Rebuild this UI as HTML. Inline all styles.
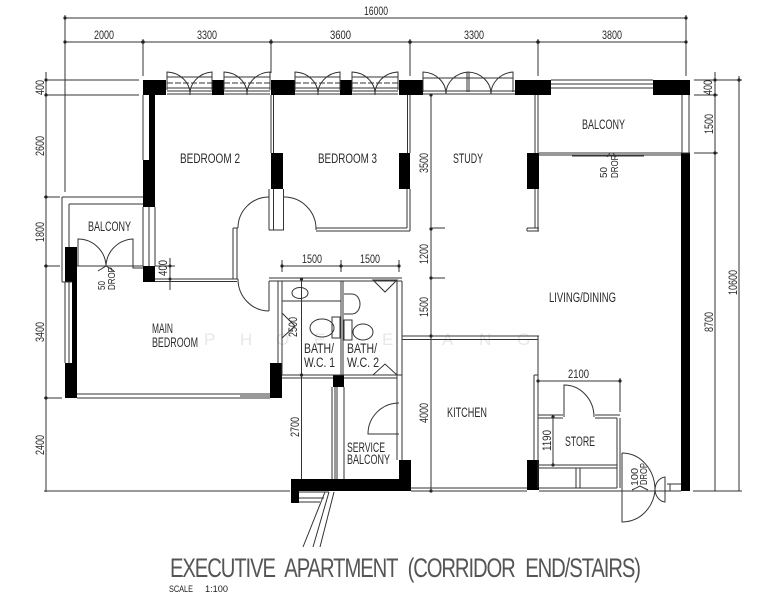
<!DOCTYPE html>
<html><head><meta charset="utf-8"><style>
html,body{margin:0;padding:0;background:#fff}
svg{display:block}
text{font-family:"Liberation Sans",sans-serif;fill:#2a2a2a}
.d text{font-size:12px}
.d .s{font-size:10px}
.r text{font-size:13.5px}
.l{fill:none;stroke:#333;stroke-width:1}
.b{fill:#000}
.wm text{font-size:17px;fill:#e8e8e8}
</style></head><body>
<svg width="758" height="600" viewBox="0 0 758 600" xmlns="http://www.w3.org/2000/svg">
<!-- watermark -->
<g class="wm">
<text x="204" y="345">P</text><text x="240" y="345">H</text><text x="276" y="345">O</text><text x="314" y="345">E</text><text x="382" y="345">E</text><text x="442" y="345">A</text><text x="479" y="345">N</text><text x="517" y="345">G</text>
</g>
<!-- dimension lines -->
<path class="l" d="M65 18H686M65 42H686M65 15V192M143 39V76M271 39V73M410 39V76M538 39V76M686 15V76M46 72V492M45 80H139M45 95H139M44 197H60M44 266H60M44 398H62M44 491H290M715 72V491M739 76V491M694 95H718M694 153H718M694 80H742M693 491H742M431 95V491M431 278H445M431 228H445M301.5 278V491M282 266H399M282 260V272M341 260V272M399 260V272M170 258V290M155 266H175M538 381H620M620 378V412M553 417V465"/>
<g fill="#222">
<circle cx="65" cy="18" r="1.6"/><circle cx="686" cy="18" r="1.6"/><circle cx="65" cy="42" r="1.6"/><circle cx="143" cy="42" r="1.8"/><circle cx="271" cy="42" r="1.8"/><circle cx="410" cy="42" r="1.8"/><circle cx="538" cy="42" r="1.8"/><circle cx="686" cy="42" r="1.6"/>
<circle cx="46" cy="80" r="1.6"/><circle cx="46" cy="95" r="1.6"/><circle cx="46" cy="197" r="1.6"/><circle cx="46" cy="266" r="1.6"/><circle cx="46" cy="398" r="1.6"/>
<circle cx="715" cy="80" r="1.6"/><circle cx="715" cy="95" r="1.6"/><circle cx="715" cy="153" r="1.6"/><circle cx="739" cy="80" r="1.6"/>
<circle cx="431" cy="95" r="1.6"/><circle cx="431" cy="229" r="1.6"/><circle cx="431" cy="278" r="1.6"/><circle cx="431" cy="336" r="1.6"/><circle cx="431" cy="491" r="1.6"/>
<circle cx="282" cy="266" r="1.6"/><circle cx="341" cy="266" r="1.6"/><circle cx="399" cy="266" r="1.6"/><circle cx="301.5" cy="279" r="1.6"/><circle cx="301.5" cy="375" r="1.6"/>
<circle cx="538" cy="381" r="1.6"/><circle cx="620" cy="381" r="1.6"/><circle cx="553" cy="417" r="1.6"/><circle cx="553" cy="465" r="1.6"/><circle cx="170" cy="266" r="1.5"/><circle cx="170" cy="279" r="1.5"/>
</g>
<!-- black walls -->
<g class="b">
<rect x="143" y="80" width="23" height="15"/><rect x="212" y="80" width="12" height="15"/><rect x="271" y="80" width="24" height="15"/><rect x="340" y="80" width="12" height="15"/><rect x="399" y="80" width="24" height="15"/><rect x="515" y="80" width="36" height="15"/><rect x="653" y="80" width="37" height="15"/>
<rect x="149" y="95" width="6" height="65"/><rect x="143" y="160" width="12" height="47"/><rect x="143" y="266" width="12" height="16"/>
<rect x="271" y="153" width="12" height="36"/><rect x="399" y="153" width="11" height="36"/><rect x="527" y="153" width="12" height="36"/>
<rect x="681" y="153" width="9" height="338"/>
<rect x="65" y="247" width="12" height="35"/><rect x="72" y="282" width="5" height="81"/><rect x="65" y="363" width="12" height="35"/>
<rect x="270" y="363" width="12" height="35"/><rect x="333" y="375" width="11" height="12"/>
<rect x="291" y="479" width="120" height="12"/><rect x="291" y="491" width="8" height="12"/><rect x="399" y="460" width="12" height="20"/>
<rect x="527" y="460" width="12" height="30"/>
</g>
<!-- walls -->
<path class="l" d="M143 95V160M271 95V153M273.500 95V153M407.500 95V153M410 95V153M535 95V153M538 95V153M682 95V153M689 95V153
M143 207V266M149 207V266M155 207V266M155 279H233M155 281.500H237M233 228V279M237 228V279M233 228H238M233 279H238
M269 189V230M273.500 189V230M283.500 189V230M269 230H284
M316 228H407M316 231H410M407 189V228M410 189V231
M62 197H143M69 204H143M62 197V282M69 204V247M62 282H72M65 282V363M69 282V363
M77 394H270M77 398H270
M269 278H402M269 281H402M269 281V311M278 281V363M282 281V375M341 281V375M343 281V375M282 375H402M282 378H333M344 378H397M397 281V460M402 281V460
M282 301H341
M402 336H539M402 339.500H538M538 336V375M534 375V460M538 375V460M534 375H538
M527 228V231M527 228H539M527 231H539M535 189V228M538 189V231
M332 387V479M335 387V479M337 387V479M344 387V479
M299 492H329M299 498H324M299 502H320
M411 488H527M411 491H527M539 488H617M539 491H622
M538 415H563M538 418H563M595 415H620M595 418H617M617 418V488M620 418V488M538 465H617M538 468H617M538 418V488M576 468V488M580 468V488
M539 153H690M539 155H681M572 156H644M670 484H681M670 484V491M693 491H710M640 491H681M622 491H660
M551 80H653M551 84H653M551 88H653"/>
<path class="l" d="M325 492L303 547M329 492L313 547M334 492L320 547"/>
<!-- windows -->
<g class="l">
<path d="M167 90V72A24 22 0 0 1 190 95A24 22 0 0 1 212 72V90M224 90V72A24 22 0 0 1 247 95A24 22 0 0 1 270 72V90M295 90V72A24 22 0 0 1 318 95A24 22 0 0 1 340 72V90M352 90V72A24 22 0 0 1 375 95A24 22 0 0 1 398 72V90"/>
<path d="M167 77H212M224 77H270M295 77H340M352 77H398M167 88H212M224 88H270M295 88H340M352 88H398M167 91H212M224 91H270M295 91H340M352 91H398M167 94H212M224 94H270M295 94H340M352 94H398"/>
<path stroke-dasharray="6 2" d="M167 83H212M224 83H270M295 83H340M352 83H398"/>
<path d="M423 92V72A24 22 0 0 1 446 94A24 22 0 0 1 468 72A24 22 0 0 1 491 94A24 22 0 0 1 513 72V92M467 72V92M469 72V92M423 78H513M423 91H515M423 94H515"/>
</g>
<!-- doors -->
<g class="l">
<path d="M269 197A31 31 0 0 0 238 228M238 279A31 32 0 0 0 269 311M284 197A32 32 0 0 1 316 230"/>
<path d="M78 266V239A28 28 0 0 1 106 266A28 28 0 0 1 133 239V268H143M77 266H143"/>
<path d="M399 403A31 31 0 0 0 368 434H399"/>
<path d="M564 417V385A30 32 0 0 1 594 417"/>
<path d="M622 453V522A33 35 0 0 0 655 490A33 37 0 0 0 622 453M665 477A11 13 0 0 0 655 490A11 13 0 0 0 665 502ZM667 484H681"/>
</g>
<!-- fixtures -->
<g class="l">
<ellipse cx="300" cy="293" rx="8" ry="5.500"/>
<ellipse cx="322" cy="328" rx="12" ry="9"/><rect x="332" y="317" width="8" height="21"/>
<ellipse cx="363" cy="332" rx="10" ry="8"/><rect x="344" y="320" width="8" height="20"/>
<path d="M344 294H352A8 10 0 0 1 360 304A8 10 0 0 1 352 314H344"/>
<path d="M373 280H397L385 292ZM373 375H397L385 364ZM282 313L295 326L282 338"/>
<path d="M240 396H270M607 157L610 153M613 153L616 157M98 271L106 266L114 271M632 490L640 486L648 490"/>
</g>
<!-- dimensions -->
<g class="d">
<text x="364" y="15" textLength="24" lengthAdjust="spacingAndGlyphs">16000</text>
<text x="94" y="39" textLength="20" lengthAdjust="spacingAndGlyphs">2000</text>
<text x="197" y="39" textLength="20" lengthAdjust="spacingAndGlyphs">3300</text>
<text x="330" y="39" textLength="21" lengthAdjust="spacingAndGlyphs">3600</text>
<text x="464" y="39" textLength="20" lengthAdjust="spacingAndGlyphs">3300</text>
<text x="602" y="39" textLength="20" lengthAdjust="spacingAndGlyphs">3800</text>
<text x="302" y="263" textLength="20" lengthAdjust="spacingAndGlyphs">1500</text>
<text x="360" y="263" textLength="20" lengthAdjust="spacingAndGlyphs">1500</text>
<text x="568" y="378" textLength="21" lengthAdjust="spacingAndGlyphs">2100</text>
<!-- rotated: translate to left edge of run, baseline -->
<text transform="translate(44 95) rotate(-90)" textLength="15" lengthAdjust="spacingAndGlyphs">400</text>
<text transform="translate(44 156) rotate(-90)" textLength="20" lengthAdjust="spacingAndGlyphs">2600</text>
<text transform="translate(44 242) rotate(-90)" textLength="20" lengthAdjust="spacingAndGlyphs">1800</text>
<text transform="translate(44 342) rotate(-90)" textLength="20" lengthAdjust="spacingAndGlyphs">3400</text>
<text transform="translate(44 455) rotate(-90)" textLength="20" lengthAdjust="spacingAndGlyphs">2400</text>
<text transform="translate(712 95) rotate(-90)" textLength="15" lengthAdjust="spacingAndGlyphs">400</text>
<text transform="translate(713 134) rotate(-90)" textLength="20" lengthAdjust="spacingAndGlyphs">1500</text>
<text transform="translate(713 332) rotate(-90)" textLength="20" lengthAdjust="spacingAndGlyphs">8700</text>
<text transform="translate(737 295) rotate(-90)" textLength="25" lengthAdjust="spacingAndGlyphs">10600</text>
<text transform="translate(428 173) rotate(-90)" textLength="20" lengthAdjust="spacingAndGlyphs">3500</text>
<text transform="translate(428 264) rotate(-90)" textLength="20" lengthAdjust="spacingAndGlyphs">1200</text>
<text transform="translate(428 317) rotate(-90)" textLength="20" lengthAdjust="spacingAndGlyphs">1500</text>
<text transform="translate(428 423) rotate(-90)" textLength="20" lengthAdjust="spacingAndGlyphs">4000</text>
<text transform="translate(297 337) rotate(-90)" textLength="20" lengthAdjust="spacingAndGlyphs">2500</text>
<text transform="translate(299 437) rotate(-90)" textLength="20" lengthAdjust="spacingAndGlyphs">2700</text>
<text transform="translate(167 276) rotate(-90)" textLength="16" lengthAdjust="spacingAndGlyphs">400</text>
<text transform="translate(551 451) rotate(-90)" textLength="21" lengthAdjust="spacingAndGlyphs">1190</text>
<text class="s" transform="translate(607 178) rotate(-90)" textLength="11" lengthAdjust="spacingAndGlyphs">50</text>
<text class="s" transform="translate(618 178) rotate(-90)" textLength="23" lengthAdjust="spacingAndGlyphs">DROP</text>
<text class="s" transform="translate(105 290) rotate(-90)" textLength="9" lengthAdjust="spacingAndGlyphs">50</text>
<text class="s" transform="translate(115 290) rotate(-90)" textLength="23" lengthAdjust="spacingAndGlyphs">DROP</text>
<text class="s" transform="translate(638 486) rotate(-90)" textLength="18" lengthAdjust="spacingAndGlyphs">100</text>
<text class="s" transform="translate(647 485) rotate(-90)" textLength="22" lengthAdjust="spacingAndGlyphs">DROP</text>
</g>
<!-- labels -->
<g class="r">
<text x="180" y="163" textLength="60" lengthAdjust="spacingAndGlyphs">BEDROOM 2</text>
<text x="318" y="163" textLength="59" lengthAdjust="spacingAndGlyphs">BEDROOM 3</text>
<text x="453" y="163" textLength="30" lengthAdjust="spacingAndGlyphs">STUDY</text>
<text x="582" y="129" textLength="43" lengthAdjust="spacingAndGlyphs">BALCONY</text>
<text x="88" y="231" textLength="43" lengthAdjust="spacingAndGlyphs">BALCONY</text>
<text x="152" y="333" textLength="21" lengthAdjust="spacingAndGlyphs">MAIN</text>
<text x="152" y="347" textLength="46" lengthAdjust="spacingAndGlyphs">BEDROOM</text>
<text x="304" y="353" textLength="30" lengthAdjust="spacingAndGlyphs">BATH/</text>
<text x="304" y="367" textLength="31" lengthAdjust="spacingAndGlyphs">W.C. 1</text>
<text x="347" y="353" textLength="30" lengthAdjust="spacingAndGlyphs">BATH/</text>
<text x="347" y="367" textLength="32" lengthAdjust="spacingAndGlyphs">W.C. 2</text>
<text x="347" y="452" textLength="38" lengthAdjust="spacingAndGlyphs">SERVICE</text>
<text x="347" y="464" textLength="43" lengthAdjust="spacingAndGlyphs">BALCONY</text>
<text x="447" y="417" textLength="40" lengthAdjust="spacingAndGlyphs">KITCHEN</text>
<text x="549" y="302" textLength="67" lengthAdjust="spacingAndGlyphs">LIVING/DINING</text>
<text x="565" y="446" textLength="30" lengthAdjust="spacingAndGlyphs">STORE</text>
</g>
<!-- title -->
<text transform="translate(170 577) scale(0.75 1)" x="0" y="0" textLength="628" lengthAdjust="spacing" style="font-size:27px;fill:#555;word-spacing:8px">EXECUTIVE APARTMENT (CORRIDOR END/STAIRS)</text>
<text x="169" y="592" textLength="24" lengthAdjust="spacingAndGlyphs" style="font-size:9px;fill:#222">SCALE</text>
<text x="205" y="592" textLength="23" lengthAdjust="spacingAndGlyphs" style="font-size:9px;fill:#222">1:100</text>
</svg>
</body></html>
